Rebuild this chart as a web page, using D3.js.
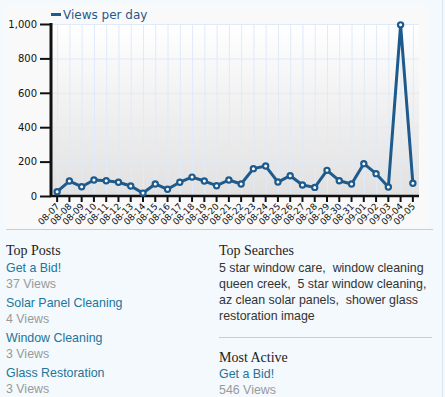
<!DOCTYPE html>
<html><head><meta charset="utf-8">
<script src="https://cdn.jsdelivr.net/npm/d3@7"></script>
<style>
html,body{margin:0;padding:0;background:#f4f9fd;}
svg{display:block;}
</style></head>
<body>
<svg id="c" width="445" height="397"></svg>
<script>
const dates = ["08-07","08-08","08-09","08-10","08-11","08-12","08-13","08-14","08-15","08-16","08-17","08-18","08-19","08-20","08-21","08-22","08-23","08-24","08-25","08-26","08-27","08-28","08-29","08-30","08-31","09-01","09-02","09-03","09-04","09-05"];
const views = [25,87,54,93,89,80,58,17,70,39,80,110,87,60,93,70,159,174,81,118,64,50,149,89,70,188,130,52,995,74];
const yTicks = [0,200,400,600,800,1000];
const seriesName = "Views per day";
const topPosts = [["Get a Bid!","37 Views"],["Solar Panel Cleaning","4 Views"],["Window Cleaning","3 Views"],["Glass Restoration","3 Views"]];
const searchLines = ["5 star window care,\u00a0 window cleaning","queen creek,\u00a0 5 star window cleaning,","az clean solar panels,\u00a0 shower glass","restoration image"];
const mostActive = [["Get a Bid!","546 Views"]];

const svg = d3.select("#c");
const lineColor = "#1d5a8e";
const L = 51, R = 419, T = 24, B = 196;

// page border & panel
svg.append("rect").attr("x",0).attr("y",0).attr("width",445).attr("height",397).attr("fill","#f4f9fd");
svg.append("line").attr("x1",442.5).attr("x2",442.5).attr("y1",0).attr("y2",397).attr("stroke","#d6e6f2").attr("stroke-width",1);
svg.append("rect").attr("x",5).attr("y",5).attr("width",423).attr("height",224).attr("fill","#f9f9f9");
svg.append("line").attr("x1",6).attr("x2",433).attr("y1",229.5).attr("y2",229.5).attr("stroke","#cccccc");

const defs = svg.append("defs");
const g = defs.append("linearGradient").attr("id","bg").attr("x1",0).attr("x2",0).attr("y1",0).attr("y2",1);
g.append("stop").attr("offset","0%").attr("stop-color","#ffffff");
g.append("stop").attr("offset","100%").attr("stop-color","#e1e1e1");

const x = d3.scaleBand().domain(dates).range([L,R]);
const cx = d => x(d) + x.bandwidth()/2;
const y = d3.scaleLinear().domain([0,1000]).range([B,T]);

svg.append("rect").attr("x",L).attr("y",T).attr("width",R-L).attr("height",B-T).attr("fill","url(#bg)");

// grid
svg.append("g").selectAll("line").data(dates).join("line")
  .attr("x1",d=>cx(d)+0.5).attr("x2",d=>cx(d)+0.5).attr("y1",T).attr("y2",B)
  .attr("stroke","#dfeafa").attr("stroke-width",1);
svg.append("g").selectAll("line").data(yTicks.filter(v=>v>0)).join("line")
  .attr("x1",L).attr("x2",R).attr("y1",d=>y(d)+0.5).attr("y2",d=>y(d)+0.5)
  .attr("stroke","#dfeafa").attr("stroke-width",1);

// y axis
const yAxis = d3.axisLeft(y).tickValues(yTicks).tickSize(11).tickPadding(3).tickFormat(d3.format(","));
const ya = svg.append("g").attr("transform",`translate(${L},0)`).call(yAxis);
ya.select(".domain").remove();
ya.selectAll(".tick line").attr("stroke","#111").attr("stroke-width",2);
ya.selectAll(".tick text").attr("font-family","DejaVu Sans, Verdana, sans-serif").attr("font-size",10).attr("fill","#111");
svg.append("line").attr("x1",L).attr("x2",L).attr("y1",T-1).attr("y2",B+1).attr("stroke","#111").attr("stroke-width",3);

// x axis
const xAxis = d3.axisBottom(x).tickSize(6).tickSizeOuter(0);
const xa = svg.append("g").attr("transform",`translate(0,${B})`).call(xAxis);
xa.select(".domain").remove();
xa.selectAll(".tick line").attr("stroke","#111").attr("stroke-width",2);
xa.selectAll(".tick text")
  .attr("font-family","DejaVu Sans, Verdana, sans-serif").attr("font-size",9).attr("fill","#111")
  .attr("text-anchor","end").attr("y",0).attr("dy",0)
  .attr("transform","translate(3,11) rotate(-45)");
svg.append("line").attr("x1",L).attr("x2",R).attr("y1",B).attr("y2",B).attr("stroke","#111").attr("stroke-width",2.5);

// line
const line = d3.line().x((d,i)=>cx(dates[i])).y(d=>y(d));
svg.append("path").datum(views).attr("d",line).attr("fill","none").attr("stroke",lineColor).attr("stroke-width",3).attr("stroke-linejoin","round");
svg.append("g").selectAll("circle").data(views).join("circle")
  .attr("cx",(d,i)=>cx(dates[i])).attr("cy",d=>y(d)).attr("r",2.6)
  .attr("fill","#fff").attr("stroke",lineColor).attr("stroke-width",2.2);

// legend
svg.append("rect").attr("x",51).attr("y",13).attr("width",10).attr("height",3).attr("fill",lineColor);
svg.append("text").attr("x",63).attr("y",19).attr("font-family","DejaVu Sans, Verdana, sans-serif").attr("font-size",12).attr("fill",lineColor).text(seriesName);

// bottom text
const serif = "Liberation Serif, Georgia, serif";
const sans = "Liberation Sans, Helvetica, Arial, sans-serif";
svg.append("text").attr("x",6).attr("y",255).attr("font-family",serif).attr("font-size",14).attr("fill","#222").text("Top Posts");
topPosts.forEach((p,i)=>{
  const by = 272 + i*35;
  svg.append("text").attr("x",6).attr("y",by).attr("font-family",sans).attr("font-size",12.4).attr("fill","#21759b").text(p[0]);
  svg.append("text").attr("x",6).attr("y",by+16).attr("font-family",sans).attr("font-size",12.4).attr("fill","#999").text(p[1]);
});
svg.append("text").attr("x",219).attr("y",255).attr("font-family",serif).attr("font-size",14).attr("fill","#222").text("Top Searches");
searchLines.forEach((s,i)=>{
  svg.append("text").attr("x",219).attr("y",272+i*16).attr("font-family",sans).attr("font-size",12.4).attr("fill","#333").text(s);
});
svg.append("line").attr("x1",219).attr("x2",432).attr("y1",337.5).attr("y2",337.5).attr("stroke","#cccccc");
svg.append("text").attr("x",219).attr("y",362).attr("font-family",serif).attr("font-size",14).attr("fill","#222").text("Most Active");
mostActive.forEach((p,i)=>{
  svg.append("text").attr("x",219).attr("y",378).attr("font-family",sans).attr("font-size",12.4).attr("fill","#21759b").text(p[0]);
  svg.append("text").attr("x",219).attr("y",394).attr("font-family",sans).attr("font-size",12.4).attr("fill","#999").text(p[1]);
});
</script>
</body></html>
